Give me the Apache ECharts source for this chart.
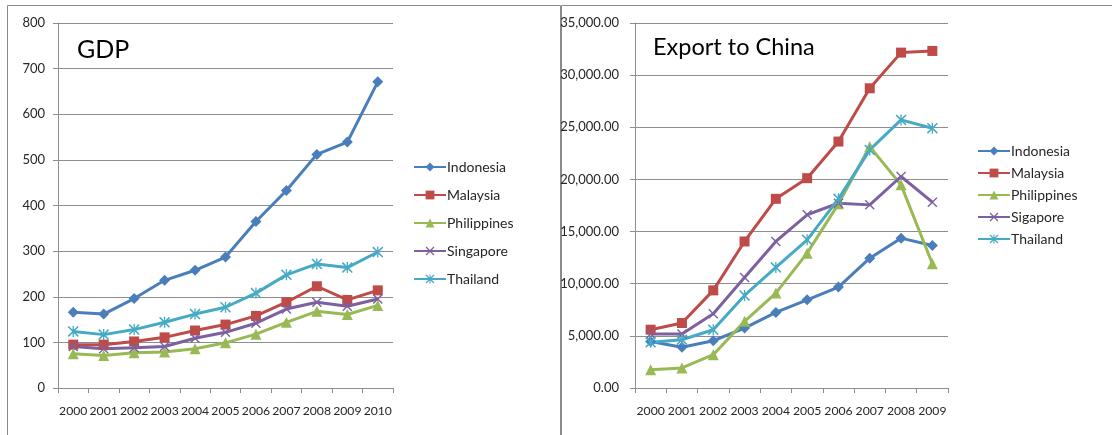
<!DOCTYPE html>
<html>
<head>
<meta charset="utf-8">
<script src="https://cdn.jsdelivr.net/npm/echarts@6/dist/echarts.min.js"></script>
<style>
html,body{margin:0;padding:0;background:#fff;}
#c{width:1112px;height:435px;}
</style>
</head>
<body>
<div id="c"></div>
<script>
// ---- Data ----
const gdpYears = ['2000','2001','2002','2003','2004','2005','2006','2007','2008','2009','2010'];
const gdpIndonesia   = [166, 162, 196, 236, 258, 287, 365, 433, 512, 539, 671];
const gdpMalaysia    = [95, 95, 102, 111, 126, 139, 158, 188, 223, 193, 214];
const gdpPhilippines = [75, 71, 77, 79, 86, 99, 118, 144, 168, 161, 181];
const gdpSingapore   = [91, 86, 88, 91, 109, 122, 142, 173, 188, 179, 195];
const gdpThailand    = [124, 117, 128, 144, 162, 177, 208, 248, 272, 264, 298];

const expYears = ['2000','2001','2002','2003','2004','2005','2006','2007','2008','2009'];
const expIndonesia   = [4450, 3900, 4530, 5750, 7250, 8460, 9680, 12450, 14370, 13670];
const expMalaysia    = [5590, 6230, 9360, 14050, 18140, 20120, 23630, 28740, 32160, 32320];
const expPhilippines = [1750, 1920, 3190, 6390, 9100, 12930, 17660, 23150, 19480, 11910];
const expSigapore    = [5170, 5170, 7120, 10600, 14050, 16610, 17720, 17560, 20280, 17820];
const expThailand    = [4380, 4630, 5590, 8880, 11560, 14210, 18140, 22830, 25710, 24910];

const gdpNames = ['Indonesia','Malaysia','Philippines','Singapore','Thailand'];
const expNames = ['Indonesia','Malaysia','Philippines','Sigapore','Thailand'];
const gdpTitle = 'GDP';
const expTitle = 'Export to China';

// ---- Styles ----
const colors = ['#4A7EBB','#BE4B48','#98B954','#7D60A0','#46AAC5'];
const xSym = 'path://M0,1 L1,0 L5,4 L9,0 L10,1 L6,5 L10,9 L9,10 L5,6 L1,10 L0,9 L4,5 Z';
const starSym = 'path://M0,1 L1,0 L5,4 L9,0 L10,1 L6,5 L10,9 L9,10 L5,6 L1,10 L0,9 L4,5 Z M4.4,0 L5.6,0 L5.6,10 L4.4,10 Z';
const symbols = ['diamond','rect','triangle',xSym,starSym];
const symSizes = [11, 10, 11, 10, 11];
const FONT = 'Lato, "Noto Sans", sans-serif';
const gridColor = '#8e8e8e';
const textColor = '#262626';

function mkSeries(names, datas, axisIdx) {
  return names.map((n, i) => ({
    name: n,
    type: 'line',
    xAxisIndex: axisIdx,
    yAxisIndex: axisIdx,
    data: datas[i],
    symbol: symbols[i],
    symbolSize: symSizes[i],
    showAllSymbol: true,
    lineStyle: {color: colors[i], width: 3},
    itemStyle: {color: colors[i]},
    emphasis: {disabled: true},
    animation: false
  }));
}

function fmtNum(v) {
  const s = Number(v).toFixed(2);
  const parts = s.split('.');
  parts[0] = parts[0].replace(/\B(?=(\d{3})+(?!\d))/g, ',');
  return parts.join('.');
}

const catAxisCommon = {
  type: 'category',
  boundaryGap: true,
  axisLine: {show: true, lineStyle: {color: gridColor, width: 1}},
  axisTick: {show: true, length: 5, lineStyle: {color: gridColor}},
  axisLabel: {interval: 0, color: textColor, fontFamily: FONT, fontSize: 12.2, margin: 17}
};
const valAxisCommon = {
  type: 'value',
  axisLine: {show: true, lineStyle: {color: gridColor, width: 1}},
  axisTick: {show: true, length: 5, lineStyle: {color: gridColor}},
  splitLine: {show: true, lineStyle: {color: gridColor, width: 1}},
  axisLabel: {color: textColor, fontFamily: FONT, fontSize: 13}
};

const chart = echarts.init(document.getElementById('c'), null, {renderer: 'canvas'});
chart.setOption({
  backgroundColor: '#fff',
  animation: false,
  color: colors,
  title: [
    {text: gdpTitle, left: 77, top: 37, padding: 0, textStyle: {fontFamily: FONT, fontSize: 25, fontWeight: 'normal', color: '#000'}},
    {text: expTitle, left: 653, top: 35, padding: 0, textStyle: {fontFamily: FONT, fontSize: 23.5, fontWeight: 'normal', color: '#000'}}
  ],
  legend: [
    {data: gdpNames, orient: 'vertical', left: 413, top: 160, padding: 0, itemGap: 14, itemWidth: 32, itemHeight: 11,
     textStyle: {fontFamily: FONT, fontSize: 14, color: textColor, padding: [0,0,0,-4]}},
    {data: expNames, orient: 'vertical', left: 977, top: 144, padding: 0, itemGap: 8, itemWidth: 32, itemHeight: 11,
     textStyle: {fontFamily: FONT, fontSize: 14, color: textColor, padding: [0,0,0,-4]}}
  ],
  grid: [
    {left: 58, top: 23, width: 335, height: 365, containLabel: false},
    {left: 635, top: 23, width: 313, height: 365, containLabel: false}
  ],
  xAxis: [
    Object.assign({gridIndex: 0, data: gdpYears}, catAxisCommon),
    Object.assign({gridIndex: 1, data: expYears}, catAxisCommon)
  ],
  yAxis: [
    Object.assign({}, valAxisCommon, {gridIndex: 0, min: 0, max: 800, interval: 100,
      axisLabel: Object.assign({}, valAxisCommon.axisLabel, {margin: 13})}),
    Object.assign({}, valAxisCommon, {gridIndex: 1, min: 0, max: 35000, interval: 5000,
      axisLabel: Object.assign({}, valAxisCommon.axisLabel, {margin: 16, formatter: fmtNum})})
  ],
  series: [].concat(
    mkSeries(gdpNames, [gdpIndonesia, gdpMalaysia, gdpPhilippines, gdpSingapore, gdpThailand], 0),
    mkSeries(expNames, [expIndonesia, expMalaysia, expPhilippines, expSigapore, expThailand], 1)
  ),
  graphic: [
    {type: 'rect', shape: {x: 7.5, y: 5.5, width: 553, height: 460}, style: {fill: null, stroke: '#8a8a8a', lineWidth: 1}, silent: true, z: -1},
    {type: 'rect', shape: {x: 561.5, y: 5.5, width: 600, height: 460}, style: {fill: null, stroke: '#8a8a8a', lineWidth: 1}, silent: true, z: -1}
  ]
});
</script>
</body>
</html>
